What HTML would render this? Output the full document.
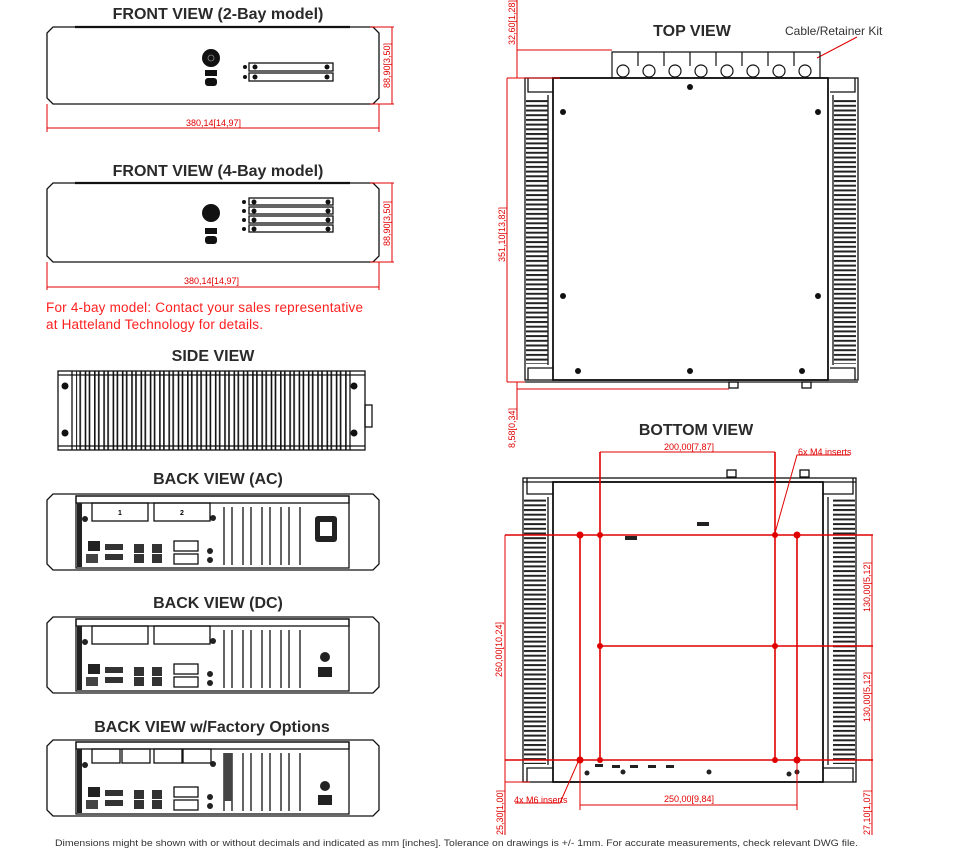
<!DOCTYPE html>
<html><head><meta charset="utf-8"><style>
html,body{margin:0;padding:0;background:#fff}
svg{display:block}
.t{font-family:"Liberation Sans",sans-serif;font-weight:bold;font-size:16px;fill:#2a2a2a;text-anchor:middle}
.d{font-family:"Liberation Sans",sans-serif;font-size:9px;fill:#e00000}
.k{stroke:#111;fill:none;stroke-width:1.3}
.r{stroke:#e00000;fill:none;stroke-width:1}
.r2{stroke:#e00000;fill:none;stroke-width:1.6}
</style></head><body>
<svg width="960" height="850" viewBox="0 0 960 850" xmlns="http://www.w3.org/2000/svg">
<defs>
<pattern id="finh" width="30" height="4.7" patternUnits="userSpaceOnUse">
<rect x="0" y="1.4" width="30" height="2" fill="#222"/>
</pattern>
<pattern id="finv" width="9.3" height="80" patternUnits="userSpaceOnUse">
<rect x="1" y="0" width="1.6" height="80" fill="#111"/>
<rect x="5" y="0" width="1.6" height="80" fill="#111"/>
</pattern>
<g id="backbase">
<path class="k" d="M53,0 H373 L379,6 V70 L373,76 H53 L47,70 V6 Z"/>
<rect class="k" x="76" y="2" width="273" height="72" stroke-width="1.8"/>
<rect class="k" x="76" y="2" width="273" height="7"/>
<rect x="77" y="9" width="5" height="64" fill="#222"/>
<rect x="88" y="47" width="12" height="10" fill="#222"/><rect x="105" y="50" width="18" height="6" fill="#333"/><rect x="105" y="60" width="18" height="6" fill="#333"/>
<rect x="86" y="60" width="12" height="9" fill="#444"/>
<rect x="134" y="50" width="10" height="9" fill="#333"/><rect x="134" y="60" width="10" height="9" fill="#333"/>
<rect x="152" y="50" width="10" height="9" fill="#333"/><rect x="152" y="60" width="10" height="9" fill="#333"/>
<rect x="174" y="47" width="24" height="10" class="k"/><rect x="174" y="60" width="24" height="10" class="k"/>
<circle cx="210" cy="57" r="3" fill="#222"/><circle cx="210" cy="66" r="3" fill="#222"/>
<circle cx="85" cy="25" r="3" fill="#222"/><circle cx="213" cy="24" r="3" fill="#222"/>
<path class="k" stroke-width="1.6" d="M224,13 V71 M232,13 V71 M243,13 V71 M251,13 V71 M262,13 V71 M270,13 V71 M281,13 V71 M289,13 V71 M300,13 V71"/>
</g>
</defs>

<!-- FRONT VIEW 2-bay -->
<text class="t" x="218" y="19">FRONT VIEW (2-Bay model)</text>
<path class="k" d="M53,27 H373 L379,33 V98 L373,104 H53 L47,98 V33 Z"/>
<path d="M75,27 H350" stroke="#111" stroke-width="2.2"/>
<circle cx="211" cy="58" r="9" fill="#111"/><circle cx="211" cy="58" r="3" fill="none" stroke="#888" stroke-width="0.8"/>
<rect x="205" y="70" width="12" height="6" fill="#111"/><rect x="205" y="78" width="12" height="8" rx="3" fill="#111"/>
<rect class="k" x="249" y="63" width="84" height="8"/><rect class="k" x="249" y="73" width="84" height="8"/>
<circle cx="255" cy="67" r="2.5" fill="#111"/><circle cx="255" cy="77" r="2.5" fill="#111"/><circle cx="327" cy="67" r="2.5" fill="#111"/><circle cx="327" cy="77" r="2.5" fill="#111"/>
<circle cx="245" cy="67" r="2" fill="#111"/><circle cx="245" cy="77" r="2" fill="#111"/>
<path class="r" d="M47,104 V132 M379,104 V132 M47,128 H379 M370,27 H394 M370,104 H394 M392,27 V104"/>
<text class="d" x="186" y="126">380,14[14,97]</text>
<text class="d" transform="translate(390,88) rotate(-90)">88,90[3,50]</text>

<!-- FRONT VIEW 4-bay -->
<text class="t" x="218" y="176">FRONT VIEW (4-Bay model)</text>
<path class="k" d="M53,183 H373 L379,189 V256 L373,262 H53 L47,256 V189 Z"/>
<path d="M75,183 H350" stroke="#111" stroke-width="2.2"/>
<circle cx="211" cy="213" r="9" fill="#111"/>
<rect x="205" y="228" width="12" height="6" fill="#111"/><rect x="205" y="236" width="12" height="8" rx="3" fill="#111"/>
<rect class="k" x="249" y="198" width="84" height="7"/><rect class="k" x="249" y="207" width="84" height="7"/><rect class="k" x="249" y="216" width="84" height="7"/><rect class="k" x="249" y="225" width="84" height="7"/>
<g fill="#111"><circle cx="254" cy="202" r="2.5"/><circle cx="254" cy="211" r="2.5"/><circle cx="254" cy="220" r="2.5"/><circle cx="254" cy="229" r="2.5"/><circle cx="328" cy="202" r="2.5"/><circle cx="328" cy="211" r="2.5"/><circle cx="328" cy="220" r="2.5"/><circle cx="328" cy="229" r="2.5"/><circle cx="244" cy="202" r="2"/><circle cx="244" cy="211" r="2"/><circle cx="244" cy="220" r="2"/><circle cx="244" cy="229" r="2"/></g>
<path class="r" d="M47,262 V290 M379,262 V290 M47,287 H379 M370,183 H394 M370,262 H394 M392,183 V262"/>
<text class="d" x="184" y="284">380,14[14,97]</text>
<text class="d" transform="translate(390,246) rotate(-90)">88,90[3,50]</text>
<text font-family="Liberation Sans,sans-serif" font-size="13.5" fill="#ff2020" x="46" y="312" textLength="317">For 4-bay model: Contact your sales representative</text>
<text font-family="Liberation Sans,sans-serif" font-size="13.5" fill="#ff2020" x="46" y="329" textLength="217">at Hatteland Technology for details.</text>

<!-- SIDE VIEW -->
<text class="t" x="213" y="361">SIDE VIEW</text>
<rect class="k" x="58" y="371" width="307" height="79"/>
<path class="k" d="M58,375 H365 M58,446 H365 M72,371 V450 M350,371 V450"/>
<rect x="76" y="371" width="272" height="79" fill="url(#finv)"/>
<circle cx="65" cy="386" r="3.5" fill="#111"/><circle cx="65" cy="433" r="3.5" fill="#111"/><circle cx="354" cy="386" r="3.5" fill="#111"/><circle cx="354" cy="433" r="3.5" fill="#111"/>
<rect class="k" x="365" y="405" width="7" height="22"/>

<!-- BACK VIEWS -->
<text class="t" x="218" y="484">BACK VIEW (AC)</text>
<g transform="translate(0,494)"><use href="#backbase"/>
<rect class="k" x="92" y="9" width="56" height="18"/><rect class="k" x="154" y="9" width="56" height="18"/>
<text x="118" y="21" font-family="Liberation Sans,sans-serif" font-size="7" font-weight="bold">1</text><text x="180" y="21" font-family="Liberation Sans,sans-serif" font-size="7" font-weight="bold">2</text>
<rect x="315" y="22" width="22" height="26" rx="3" fill="#222"/><rect x="320" y="28" width="12" height="14" fill="#fff"/>
</g>
<text class="t" x="218" y="608">BACK VIEW (DC)</text>
<g transform="translate(0,617)"><use href="#backbase"/>
<rect class="k" x="92" y="9" width="56" height="18"/><rect class="k" x="154" y="9" width="56" height="18"/>
<circle cx="325" cy="40" r="5" fill="#222"/><rect x="318" y="50" width="14" height="10" fill="#222"/>
</g>
<text class="t" x="212" y="732">BACK VIEW w/Factory Options</text>
<g transform="translate(0,740)"><use href="#backbase"/>
<rect class="k" x="92" y="9" width="28" height="14"/><rect class="k" x="122" y="9" width="28" height="14"/><rect class="k" x="154" y="9" width="28" height="14"/><rect class="k" x="183" y="9" width="28" height="14"/>
<rect x="224" y="13" width="8" height="48" fill="#444"/>
<circle cx="325" cy="46" r="5" fill="#222"/><rect x="318" y="55" width="14" height="10" fill="#222"/>
</g>

<!-- TOP VIEW -->
<text class="t" x="692" y="36">TOP VIEW</text>
<text font-family="Liberation Sans,sans-serif" font-size="12" fill="#333" x="785" y="35">Cable/Retainer Kit</text>
<path class="r" d="M817,58 L857,37"/>
<g class="k">
<rect x="525" y="78" width="333" height="302"/>
<rect x="553" y="78" width="275" height="302" stroke-width="1.8"/>
<path d="M525,382 H858 M528,78 V92 H553 M830,92 H855 V78 M528,380 V368 H553 M830,368 H855 V380 M548,95 V365 M833,95 V365"/>
</g>
<rect x="526" y="98" width="22" height="266" fill="url(#finh)"/>
<rect x="834" y="98" width="22" height="266" fill="url(#finh)"/>
<g fill="none" stroke="#111" stroke-width="1.2">
<path d="M612,78 V52 H820 V78"/>
<path d="M638,52 V66 M664,52 V66 M690,52 V66 M716,52 V66 M742,52 V66 M768,52 V66 M794,52 V66"/>
<circle cx="623" cy="71" r="6"/><circle cx="649" cy="71" r="6"/><circle cx="675" cy="71" r="6"/><circle cx="701" cy="71" r="6"/><circle cx="727" cy="71" r="6"/><circle cx="753" cy="71" r="6"/><circle cx="779" cy="71" r="6"/><circle cx="805" cy="71" r="6"/>
</g>
<g fill="#111"><circle cx="690" cy="87" r="3"/><circle cx="563" cy="112" r="3"/><circle cx="818" cy="112" r="3"/><circle cx="563" cy="296" r="3"/><circle cx="818" cy="296" r="3"/><circle cx="578" cy="371" r="3"/><circle cx="690" cy="371" r="3"/><circle cx="802" cy="371" r="3"/></g>
<rect class="k" x="729" y="382" width="9" height="6"/><rect class="k" x="802" y="382" width="9" height="6"/>
<path class="r" d="M517,0 V78 M517,50 H612 M507,78 H560 M507,78 V382 M507,382 H525 M517,382 V420 M517,389 H729"/>
<text class="d" transform="translate(515,45) rotate(-90)">32,60[1,28]</text>
<text class="d" transform="translate(505,262) rotate(-90)">351,10[13,82]</text>
<text class="d" transform="translate(515,448) rotate(-90)">8,58[0,34]</text>

<!-- BOTTOM VIEW -->
<text class="t" x="696" y="435">BOTTOM VIEW</text>
<g class="k">
<rect x="523" y="478" width="333" height="304"/>
<rect x="553" y="482" width="270" height="300" stroke-width="1.8"/>
<path d="M523,482 H856 M527,478 V494 H553 M823,494 H853 V478 M527,782 V768 H553 M823,768 H853 V782 M548,497 V765 M828,497 V765"/>
</g>
<rect x="524" y="498" width="22" height="266" fill="url(#finh)"/>
<rect x="833" y="498" width="22" height="266" fill="url(#finh)"/>
<rect class="k" x="727" y="470" width="9" height="7"/><rect class="k" x="800" y="470" width="9" height="7"/>
<rect x="697" y="522" width="12" height="4" fill="#222"/><rect x="625" y="536" width="12" height="4" fill="#222"/>
<g fill="#222"><rect x="595" y="764" width="8" height="3"/><rect x="612" y="765" width="8" height="3"/><rect x="630" y="765" width="8" height="3"/><rect x="648" y="765" width="8" height="3"/><rect x="666" y="765" width="8" height="3"/>
<circle cx="587" cy="773" r="2.5"/><circle cx="623" cy="772" r="2.5"/><circle cx="709" cy="772" r="2.5"/><circle cx="789" cy="774" r="2.5"/><circle cx="797" cy="772" r="2.5"/></g>
<path class="r2" d="M505,535 H873 M505,760 H873 M600,646 H873 M580,535 V760 M600,452 V760 M775,452 V760 M797,535 V760"/>
<path class="r" d="M505,535 V782 M505,782 H530 M872,535 V782 M580,760 V810 M797,760 V810 M580,805 H797 M505,782 V835 M872,782 V835 M600,452 H775 M775,533 L797,455 H850 M578,762 L560,803 H515"/>
<g fill="#e00000"><circle cx="580" cy="535" r="3.5"/><circle cx="600" cy="535" r="3"/><circle cx="775" cy="535" r="3"/><circle cx="797" cy="535" r="3.5"/><circle cx="600" cy="646" r="3"/><circle cx="775" cy="646" r="3"/><circle cx="580" cy="760" r="3.5"/><circle cx="600" cy="760" r="3"/><circle cx="775" cy="760" r="3"/><circle cx="797" cy="760" r="3.5"/></g>
<text class="d" x="664" y="450">200,00[7,87]</text>
<text class="d" x="798" y="455">6x M4 inserts</text>
<text class="d" x="664" y="802">250,00[9,84]</text>
<text class="d" x="514" y="803">4x M6 inserts</text>
<text class="d" transform="translate(502,677) rotate(-90)">260,00[10,24]</text>
<text class="d" transform="translate(870,612) rotate(-90)">130,00[5,12]</text>
<text class="d" transform="translate(870,722) rotate(-90)">130,00[5,12]</text>
<text class="d" transform="translate(503,835) rotate(-90)">25,30[1,00]</text>
<text class="d" transform="translate(870,835) rotate(-90)">27,10[1,07]</text>

<text font-family="Liberation Sans,sans-serif" font-size="9.5" fill="#333" x="55" y="846" textLength="803" lengthAdjust="spacingAndGlyphs">Dimensions might be shown with or without decimals and indicated as mm [inches]. Tolerance on drawings is +/- 1mm. For accurate measurements, check relevant DWG file.</text>
</svg>
</body></html>
